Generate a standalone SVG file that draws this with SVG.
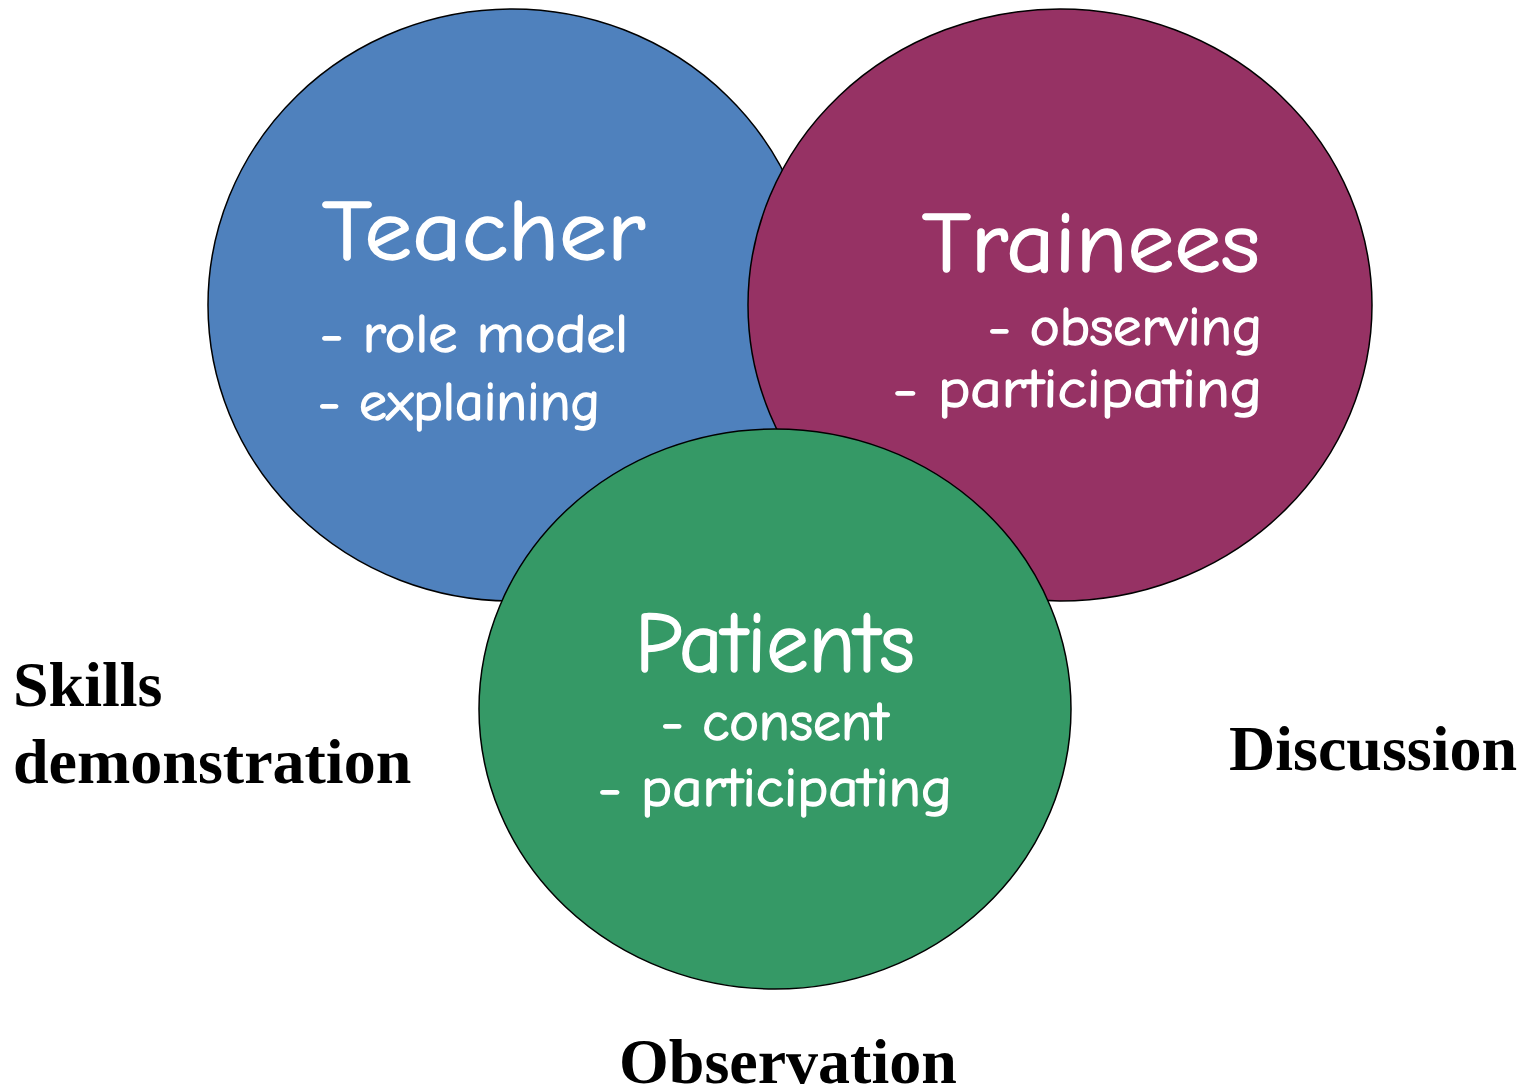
<svg xmlns="http://www.w3.org/2000/svg" width="1526" height="1089" viewBox="0 0 1526 1089">
<style>
.c{stroke:#000;stroke-width:1.5}
.h{font-family:"Comic Neue","Comic Sans MS","Open Sans","DejaVu Sans",sans-serif;fill:#fff;stroke:#fff;stroke-width:1.4;stroke-linejoin:round}
.t{font-size:86px}
.s{font-size:54px}
.l{font-family:"Liberation Serif","Times New Roman",serif;font-weight:bold;font-size:64px;fill:#000}
</style>
<rect width="1526" height="1089" fill="#fff"/>
<g id="teacher">
<ellipse class="c" cx="512" cy="305" rx="304" ry="296" fill="#4F81BD"/>
<text class="h t" x="322" y="260" textLength="323" lengthAdjust="spacingAndGlyphs">Teacher</text>
<text class="h s" x="320" y="352" textLength="308" lengthAdjust="spacingAndGlyphs">-  role model</text>
<text class="h s" x="318" y="420" textLength="282" lengthAdjust="spacingAndGlyphs">- explaining</text>
</g>
<g id="trainees">
<ellipse class="c" cx="1060" cy="305" rx="312" ry="296" fill="#963264"/>
<text class="h t" x="922" y="272" textLength="338" lengthAdjust="spacingAndGlyphs">Trainees</text>
<text class="h s" x="988" y="345" textLength="274" lengthAdjust="spacingAndGlyphs">- observing</text>
<text class="h s" x="893" y="407" textLength="369" lengthAdjust="spacingAndGlyphs">-  participating</text>
</g>
<g id="patients">
<ellipse class="c" cx="775" cy="709" rx="296" ry="280" fill="#359966"/>
<text class="h t" x="635" y="672" textLength="280" lengthAdjust="spacingAndGlyphs">Patients</text>
<text class="h s" x="661" y="740" textLength="227" lengthAdjust="spacingAndGlyphs">- consent</text>
<text class="h s" x="598" y="806" textLength="354" lengthAdjust="spacingAndGlyphs">- participating</text>
</g>
<g id="connectors"></g>
<g id="labels">
<text class="l" x="13" y="706">Skills</text>
<text class="l" x="13" y="783">demonstration</text>
<text class="l" x="1229" y="770">Discussion</text>
<text class="l" x="619" y="1083">Observation</text>
</g>
</svg>
